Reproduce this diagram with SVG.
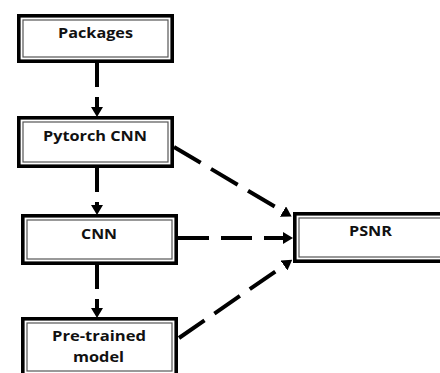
<svg xmlns="http://www.w3.org/2000/svg" width="440" height="373" viewBox="0 0 440 373">
<defs>
<style>
.outer{fill:#fff;stroke:#000;stroke-width:3.6}
.inner{fill:none;stroke:#555;stroke-width:1.2}
.lbl{font-family:"Open Sans","DejaVu Sans",sans-serif;font-weight:bold;font-size:14px;fill:#111;text-anchor:middle}
.v{stroke:#000;stroke-width:4;fill:none;stroke-dasharray:24 10}
.d{stroke:#000;stroke-width:4;fill:none;stroke-dasharray:31 12}
</style>
<marker id="ah" markerUnits="userSpaceOnUse" markerWidth="10" markerHeight="12" refX="0" refY="6" orient="auto">
<path d="M0,0 L10,6 L0,12 z" fill="#000"/>
</marker>
</defs>
<rect width="440" height="373" fill="#fff"/>
<g id="connectors">
<line class="v" x1="97" y1="63" x2="97" y2="107" marker-end="url(#ah)"/>
<line class="v" x1="97" y1="168" x2="97" y2="205" marker-end="url(#ah)"/>
<line class="v" x1="97" y1="265" x2="97" y2="308" marker-end="url(#ah)"/>
<line class="d" x1="174" y1="147" x2="283" y2="211.5" marker-end="url(#ah)"/>
<line class="d" x1="178" y1="238" x2="283" y2="238" marker-end="url(#ah)"/>
<line class="d" x1="179" y1="338" x2="284" y2="265.5" marker-end="url(#ah)"/>
</g>
<g id="packages">
<rect class="outer" x="18.8" y="15.8" width="153.4" height="45.4"/>
<rect class="inner" x="23" y="20" width="145" height="37"/>
<text class="lbl" x="95.5" y="37.5" textLength="75" lengthAdjust="spacingAndGlyphs">Packages</text>
</g>
<g id="pytorch">
<rect class="outer" x="18.8" y="117.8" width="153.4" height="48.4"/>
<rect class="inner" x="23" y="122" width="145" height="40"/>
<text class="lbl" x="95" y="140.5" textLength="104" lengthAdjust="spacingAndGlyphs">Pytorch CNN</text>
</g>
<g id="cnn">
<rect class="outer" x="22.8" y="215.8" width="153.4" height="47.4"/>
<rect class="inner" x="27" y="220" width="145" height="39"/>
<text class="lbl" x="99" y="238.5" textLength="36" lengthAdjust="spacingAndGlyphs">CNN</text>
</g>
<g id="pretrained">
<rect class="outer" x="22.8" y="318.8" width="153.4" height="56"/>
<rect class="inner" x="27" y="323" width="145" height="48"/>
<text class="lbl" x="99" y="341" textLength="94" lengthAdjust="spacingAndGlyphs">Pre-trained</text>
<text class="lbl" x="98.5" y="362" textLength="51" lengthAdjust="spacingAndGlyphs">model</text>
</g>
<g id="psnr">
<rect class="outer" x="294.8" y="213.8" width="152" height="47.4"/>
<rect class="inner" x="299" y="218" width="150" height="39"/>
<text class="lbl" x="370.5" y="236" textLength="43" lengthAdjust="spacingAndGlyphs">PSNR</text>
</g>
</svg>
